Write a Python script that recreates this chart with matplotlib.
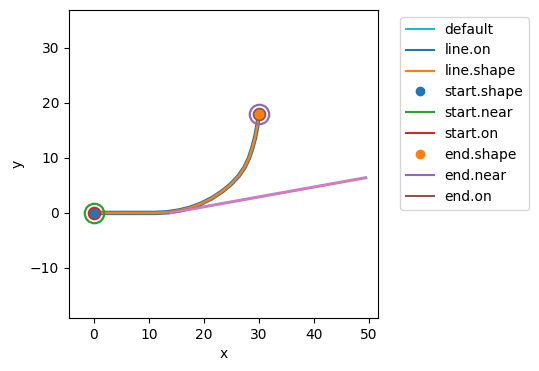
import numpy as np
import matplotlib
matplotlib.use("Agg")
import matplotlib.pyplot as plt
from matplotlib.lines import Line2D

# path: straight run, then bend up to the end point
path_x = [0, 4, 8, 11, 13.2, 15.5, 17.5, 19.5, 21.5, 23.3, 24.9, 26.3, 27.4, 28.2, 28.8, 29.3, 29.65, 29.88, 30]
path_y = [0, 0, 0, 0, 0.1, 0.45, 0.95, 1.7, 2.7, 3.9, 5.2, 6.7, 8.3, 10.0, 11.8, 13.7, 15.5, 17.0, 18]

# second straight segment leaving the bend
branch_x = [13.8, 49.4]
branch_y = [0, 6.4]

start = (0, 0)
end = (30, 18)

labels = ["default", "line.on", "line.shape", "start.shape", "start.near",
          "start.on", "end.shape", "end.near", "end.on"]
colors = ["tab:cyan", "C0", "C1", "C0", "C2", "C3", "C1", "C4", "C5"]

fig = plt.figure(figsize=(5.39, 3.71), dpi=100)
ax = fig.add_axes([0.128, 0.143, 0.573, 0.830])

ax.plot(path_x, path_y, color=colors[0], lw=1.5)
ax.plot(path_x, path_y, color=colors[1], lw=3.2)
ax.plot(path_x, path_y, color=colors[2], lw=1.8)
ax.scatter([start[0]], [start[1]], s=36, color=colors[3], zorder=3)
ax.plot([start[0]], [start[1]], "o", ms=14, mfc="none", mec=colors[4], mew=1.6)
ax.plot([start[0]], [start[1]], "o", ms=8, mfc="none", mec=colors[5], mew=1.8)
ax.scatter([end[0]], [end[1]], s=40, color=colors[6], zorder=3)
ax.plot([end[0]], [end[1]], "o", ms=14, mfc="none", mec=colors[7], mew=1.6)
ax.plot([end[0]], [end[1]], "o", ms=8, mfc="none", mec=colors[8], mew=1.8)

ax.plot(branch_x, branch_y, color="C4", lw=2.2, alpha=0.8)
ax.plot(branch_x, branch_y, color="C6", lw=1.2)

ax.set_xlim(-4.5, 51.6)
ax.set_ylim(-19.1, 36.9)
ax.set_xticks([0, 10, 20, 30, 40, 50])
ax.set_yticks([-10, 0, 10, 20, 30])
ax.set_xlabel("x")
ax.set_ylabel("y")

# legend: lines for everything except the two scatter dots
handles = []
for lab, c in zip(labels, colors):
    if lab.endswith(".shape") and lab != "line.shape":
        handles.append(Line2D([], [], ls="none", marker="o", ms=6, color=c, label=lab))
    else:
        handles.append(Line2D([], [], color=c, lw=1.5, label=lab))
ax.legend(handles=handles, loc="upper left", bbox_to_anchor=(1.05, 1))

fig.savefig("out.png", dpi=100)
